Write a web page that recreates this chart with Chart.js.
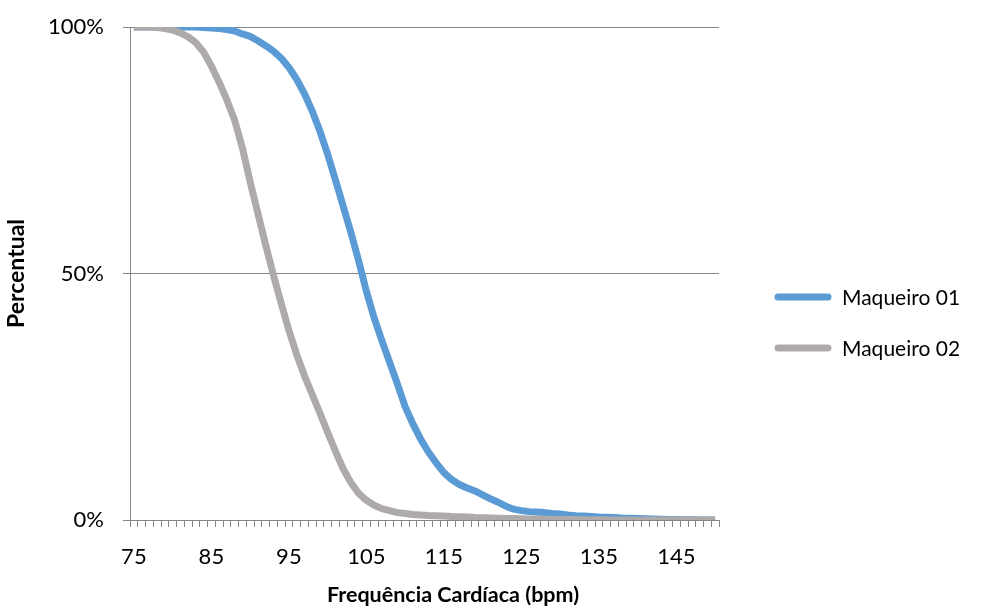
<!DOCTYPE html>
<html>
<head>
<meta charset="utf-8">
<script src="https://cdn.jsdelivr.net/npm/chart.js@4/dist/chart.umd.min.js"></script>
<style>
  html, body { margin: 0; padding: 0; background: #fff; }
  #wrap { width: 982px; height: 610px; }
</style>
</head>
<body>
<div id="wrap"><canvas id="cvs_frequencia"></canvas></div>
<script>
// Frequência cardíaca (bpm), uma categoria por batimento
const bpm = [
  75, 76, 77, 78, 79, 80, 81, 82, 83, 84,
  85, 86, 87, 88, 89, 90, 91, 92, 93, 94,
  95, 96, 97, 98, 99, 100, 101, 102, 103, 104,
  105, 106, 107, 108, 109, 110, 111, 112, 113, 114,
  115, 116, 117, 118, 119, 120, 121, 122, 123, 124,
  125, 126, 127, 128, 129, 130, 131, 132, 133, 134,
  135, 136, 137, 138, 139, 140, 141, 142, 143, 144,
  145, 146, 147, 148, 149, 150
];

// percentual acumulado (%) - Maqueiro 01
const maqueiro01 = [
  100, 100, 100, 100, 100, 100, 100, 100, 100, 99.9,
  99.8, 99.7, 99.5, 99.2, 98.6, 98.1, 97.2, 96.2, 95.1, 93.7,
  91.8, 89.4, 86.5, 83.0, 78.9, 74.2, 69.0, 63.7, 58.3, 52.6,
  46.4, 41.0, 36.4, 32.0, 27.6, 23.0, 19.5, 16.4, 13.8, 11.6,
  9.6, 8.2, 7.2, 6.5, 5.9, 5.1, 4.3, 3.6, 2.8, 2.2,
  1.9, 1.7, 1.6, 1.5, 1.3, 1.2, 1.0, 0.85, 0.8, 0.7,
  0.6, 0.55, 0.5, 0.4, 0.35, 0.3, 0.25, 0.2, 0.15, 0.1,
  0.1, 0.05, 0.05, 0, 0, 0
];

// percentual acumulado (%) - Maqueiro 02
const maqueiro02 = [
  100, 100, 100, 99.9, 99.7, 99.4, 98.8, 98.0, 96.8, 94.9,
  92.1, 88.8, 85.2, 81.1, 75.5, 68.6, 62.2, 55.8, 49.7, 44.0,
  38.5, 33.6, 29.3, 25.5, 21.7, 17.8, 14.0, 10.4, 7.6, 5.4,
  4.0, 3.0, 2.3, 1.9, 1.5, 1.3, 1.1, 1.0, 0.9, 0.85,
  0.8, 0.7, 0.65, 0.6, 0.5, 0.45, 0.4, 0.35, 0.3, 0.3,
  0.25, 0.2, 0.2, 0.15, 0.15, 0.1, 0.1, 0.1, 0.05, 0.05,
  0.05, 0.05, 0, 0, 0, 0, 0, 0, 0, 0,
  0, 0, 0, 0, 0, 0
];

const rotulosY = [0, 50, 100];
const tituloX = "Frequência Cardíaca (bpm)";

const fonte = "Lato, 'Open Sans', sans-serif";
const cinzaEixo = "#868686";

// legenda à direita (linha grossa + texto) e título do eixo X
const legendaLinhas = {
  id: "legendaLinhas",
  afterDraw(chart) {
    const ctx = chart.ctx;
    const area = chart.chartArea;
    ctx.save();
    chart.data.datasets.forEach(function (ds, i) {
      const y = 297 + i * 51;
      const x0 = area.right + 59;
      ctx.strokeStyle = ds.borderColor;
      ctx.lineWidth = 7;
      ctx.lineCap = "round";
      ctx.beginPath();
      ctx.moveTo(x0, y);
      ctx.lineTo(x0 + 50, y);
      ctx.stroke();
      ctx.fillStyle = "#000";
      ctx.font = "21px " + fonte;
      ctx.textAlign = "left";
      ctx.textBaseline = "middle";
      ctx.fillText(ds.label, x0 + 64, y + 1);
    });
    // título do eixo X (no original fica deslocado para a direita)
    ctx.font = "bold 21.5px " + fonte;
    ctx.textAlign = "center";
    ctx.textBaseline = "middle";
    ctx.fillText(tituloX, 453, 595);
    ctx.restore();
  },
};

new Chart(document.getElementById("cvs_frequencia"), {
  type: "line",
  data: {
    labels: bpm,
    datasets: [
      {
        label: "Maqueiro 01",
        data: maqueiro01,
        borderColor: "#5b9bd5",
        backgroundColor: "#5b9bd5",
        borderWidth: 7,
        borderJoinStyle: "round",
        pointRadius: 0,
        tension: 0,
        order: 1,
      },
      {
        label: "Maqueiro 02",
        data: maqueiro02,
        borderColor: "#aeaaaa",
        backgroundColor: "#aeaaaa",
        borderWidth: 7,
        borderJoinStyle: "round",
        pointRadius: 0,
        tension: 0,
        order: 0,
      },
    ],
  },
  options: {
    responsive: true,
    maintainAspectRatio: false,
    animation: false,
    layout: { padding: { top: 27, right: 263, bottom: 0, left: 0 } },
    plugins: {
      legend: { display: false },
      tooltip: { enabled: false },
    },
    scales: {
      x: {
        type: "category",
        offset: true,
        grid: {
          offset: true,
          drawOnChartArea: false,
          drawTicks: true,
          tickLength: 7,
          color: cinzaEixo,
        },
        border: { color: cinzaEixo, width: 1 },
        ticks: {
          autoSkip: false,
          maxRotation: 0,
          minRotation: 0,
          padding: 17,
          color: "#000",
          font: { family: fonte, size: 22 },
          callback: function (value, index) {
            const v = bpm[index];
            return (v - 75) % 10 === 0 ? String(v) : "";
          },
        },
        afterFit: function (scale) {
          scale.height = 90;
        },
      },
      y: {
        min: 0,
        max: 100,
        afterBuildTicks: function (scale) {
          scale.ticks = rotulosY.map(function (v) { return { value: v }; });
        },
        grid: {
          color: cinzaEixo,
          drawTicks: true,
          tickLength: 7,
        },
        border: { color: cinzaEixo, width: 1 },
        ticks: {
          padding: 19,
          color: "#000",
          font: { family: fonte, size: 22 },
          callback: function (value) {
            return value + "%";
          },
        },
        title: {
          display: true,
          text: "Percentual",
          color: "#000",
          font: { family: fonte, size: 23, weight: "bold" },
          padding: { top: 3, bottom: 0 },
        },
        afterFit: function (scale) {
          scale.width = 130;
          scale.paddingTop = 12;
          scale.paddingBottom = 12;
        },
      },
    },
  },
  plugins: [legendaLinhas],
});
</script>
</body>
</html>
